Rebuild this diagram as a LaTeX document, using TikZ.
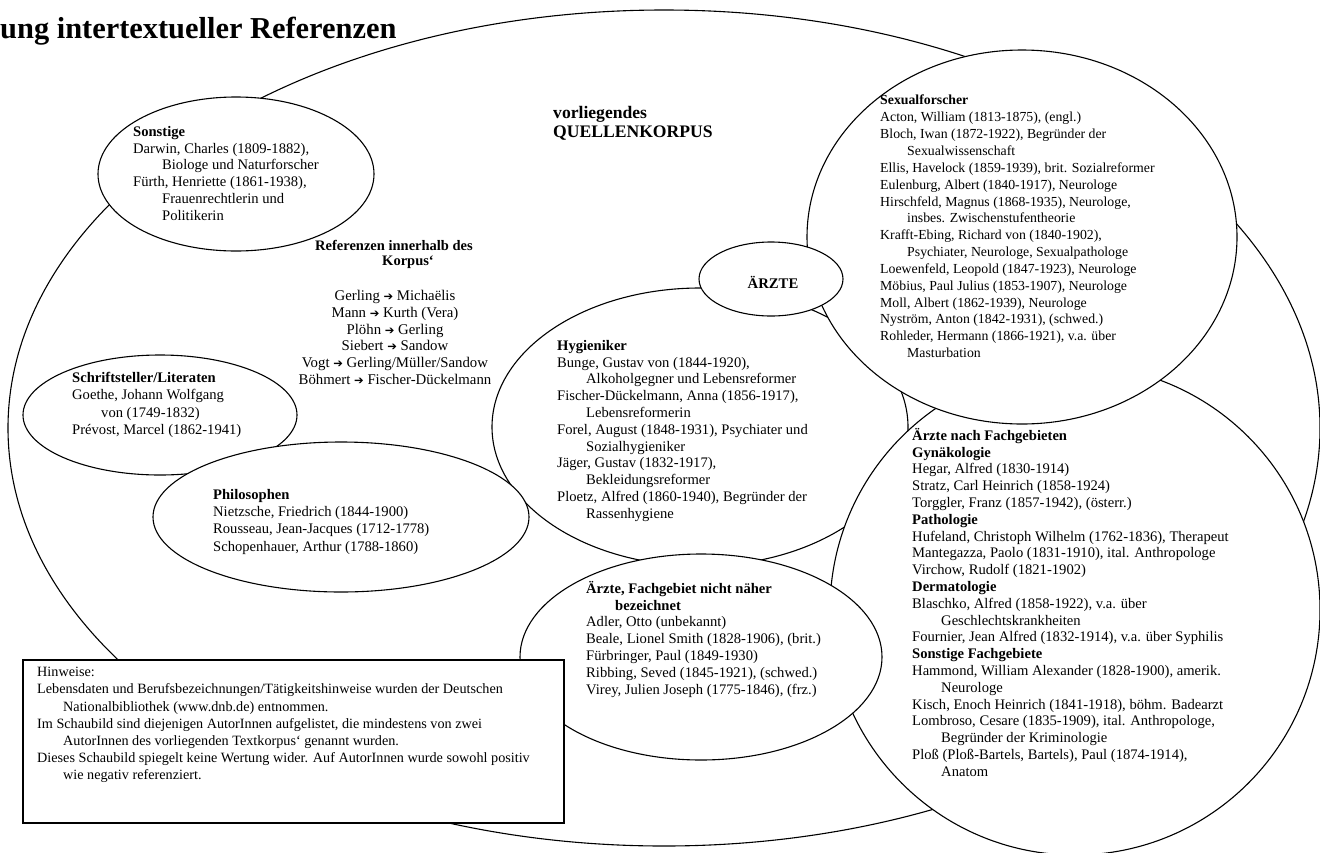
\documentclass[tikz,border=0pt]{standalone}
\usepackage{fontspec}
\setmainfont{Liberation Serif}
\newfontfamily\arrowfont{DejaVu Sans}
\newcommand{\ar}{{\arrowfont\fontsize{11.5}{16.8}\selectfont ➔}}
\newcommand{\ind}{\hspace*{29pt}}
\newcommand{\fsz}[2]{\fontsize{#1}{#2}\selectfont}
\begin{document}
\begin{tikzpicture}[x=1pt,y=-1pt,
  grp/.style={draw=black, line width=1.1pt, fill=white},
  txt/.style={anchor=north west, align=left, inner sep=0pt},
  hint/.style={draw=black, line width=1.1pt, fill=white}]
\useasboundingbox (0,0) rectangle (1320,852);
\fill[white] (0,0) rectangle (1320,852);

% title (cut off)
\node[anchor=base west, inner sep=0pt, font=\fsz{30.4}{34}\bfseries] (title) at (0,38) {ung intertextueller Referenzen};

% big corpus ellipse
\draw[grp] (664,428) ellipse [x radius=656, y radius=418];

% groups
\draw[grp] (700,427) ellipse [x radius=208, y radius=139];   % Hygieniker
\draw[grp] (1075,610) ellipse [x radius=245, y radius=245];  % Fachgebiete
\draw[grp] (701,657) ellipse [x radius=181, y radius=103];   % nicht naeher
\draw[grp] (1022,237) ellipse [x radius=215, y radius=187];  % Sexualforscher
\draw[grp] (771,279) ellipse [x radius=72, y radius=37];     % AERZTE
\draw[grp] (236,174) ellipse [x radius=138, y radius=77];    % Sonstige
\draw[grp] (160,415) ellipse [x radius=137, y radius=60];    % Schriftsteller
\draw[grp] (341,517) ellipse [x radius=188, y radius=75];    % Philosophen
\draw[hint] (23,660) rectangle (564,823);

% corpus label
\node[anchor=north west, align=left, inner sep=0pt, font=\fsz{17.6}{19}\bfseries] (korpus) at (553,106) {vorliegendes\\QUELLENKORPUS};

\node[inner sep=0pt, font=\fsz{14.7}{16.8}\bfseries] (aerzte) at (773,282) {ÄRZTE};

\node[txt, font=\fsz{14.6}{16.8}] (sonstige) at (133,126) {\textbf{Sonstige}\\
Darwin, Charles (1809-1882),\\
\ind Biologe und Naturforscher\\
Fürth, Henriette (1861-1938),\\
\ind Frauenrechtlerin und\\
\ind Politikerin};

\node[inner sep=0pt, font=\fsz{14.5}{16.8}\bfseries] (refhead1) at (394,245) {Referenzen innerhalb des};
\node[inner sep=0pt, font=\fsz{14.5}{16.8}\bfseries] (refhead2) at (408,262) {Korpus‘};
\node[anchor=north, align=center, inner sep=0pt, font=\fsz{14.8}{16.8}] (reflist) at (395,290) {Gerling \ar{} Michaëlis\\
Mann \ar{} Kurth (Vera)\\
Plöhn \ar{} Gerling\\
Siebert \ar{} Sandow\\
Vogt \ar{} Gerling/Müller/Sandow\\
Böhmert \ar{} Fischer-Dückelmann};

\node[txt, font=\fsz{14.6}{17.3}] (schrift) at (72,372) {\textbf{Schriftsteller/Literaten}\\
Goethe, Johann Wolfgang\\
\ind von (1749-1832)\\
Prévost, Marcel (1862-1941)};

\node[txt, font=\fsz{14.6}{17.3}] (philo) at (213,489) {\textbf{Philosophen}\\
Nietzsche, Friedrich (1844-1900)\\
Rousseau, Jean-Jacques (1712-1778)\\
Schopenhauer, Arthur (1788-1860)};

\node[txt, font=\fsz{14.6}{16.8}] (hyg) at (557,340) {\textbf{Hygieniker}\\
Bunge, Gustav von (1844-1920),\\
\ind Alkoholgegner und Lebensreformer\\
Fischer-Dückelmann, Anna (1856-1917),\\
\ind Lebensreformerin\\
Forel, August (1848-1931), Psychiater und\\
\ind Sozialhygieniker\\
Jäger, Gustav (1832-1917),\\
\ind Bekleidungsreformer\\
Ploetz, Alfred (1860-1940), Begründer der\\
\ind Rassenhygiene};

\node[txt, font=\fsz{14.6}{16.8}] (nn) at (586,581) {\textbf{Ärzte, Fachgebiet nicht näher}\\
\ind\textbf{bezeichnet}\\
Adler, Otto (unbekannt)\\
Beale, Lionel Smith (1828-1906), (brit.)\\
Fürbringer, Paul (1849-1930)\\
Ribbing, Seved (1845-1921), (schwed.)\\
Virey, Julien Joseph (1775-1846), (frz.)};

\node[txt, font=\fsz{13.8}{16.85}] (sexual) at (880,95) {\textbf{Sexualforscher}\\
Acton, William (1813-1875), (engl.)\\
Bloch, Iwan (1872-1922), Begründer der\\
\hspace*{27pt}Sexualwissenschaft\\
Ellis, Havelock (1859-1939), brit. Sozialreformer\\
Eulenburg, Albert (1840-1917), Neurologe\\
Hirschfeld, Magnus (1868-1935), Neurologe,\\
\hspace*{27pt}insbes. Zwischenstufentheorie\\
Krafft-Ebing, Richard von (1840-1902),\\
\hspace*{27pt}Psychiater, Neurologe, Sexualpathologe\\
Loewenfeld, Leopold (1847-1923), Neurologe\\
Möbius, Paul Julius (1853-1907), Neurologe\\
Moll, Albert (1862-1939), Neurologe\\
Nyström, Anton (1842-1931), (schwed.)\\
Rohleder, Hermann (1866-1921), v.a. über\\
\hspace*{27pt}Masturbation};

\node[txt, font=\fsz{14.6}{16.8}] (fach) at (912,428) {\textbf{Ärzte nach Fachgebieten}\\
\textbf{Gynäkologie}\\
Hegar, Alfred (1830-1914)\\
Stratz, Carl Heinrich (1858-1924)\\
Torggler, Franz (1857-1942), (österr.)\\
\textbf{Pathologie}\\
Hufeland, Christoph Wilhelm (1762-1836), Therapeut\\
Mantegazza, Paolo (1831-1910), ital. Anthropologe\\
Virchow, Rudolf (1821-1902)\\
\textbf{Dermatologie}\\
Blaschko, Alfred (1858-1922), v.a. über\\
\ind Geschlechtskrankheiten\\
Fournier, Jean Alfred (1832-1914), v.a. über Syphilis\\
\textbf{Sonstige Fachgebiete}\\
Hammond, William Alexander (1828-1900), amerik.\\
\ind Neurologe\\
Kisch, Enoch Heinrich (1841-1918), böhm. Badearzt\\
Lombroso, Cesare (1835-1909), ital. Anthropologe,\\
\ind Begründer der Kriminologie\\
Ploß (Ploß-Bartels, Bartels), Paul (1874-1914),\\
\ind Anatom};

\node[txt, font=\fsz{14.2}{17.2}] (hinweise) at (37,667) {Hinweise:\\
Lebensdaten und Berufsbezeichnungen/Tätigkeitshinweise wurden der Deutschen\\
\hspace*{26pt}Nationalbibliothek (www.dnb.de) entnommen.\\
Im Schaubild sind diejenigen AutorInnen aufgelistet, die mindestens von zwei\\
\hspace*{26pt}AutorInnen des vorliegenden Textkorpus‘ genannt wurden.\\
Dieses Schaubild spiegelt keine Wertung wider. Auf AutorInnen wurde sowohl positiv\\
\hspace*{26pt}wie negativ referenziert.};
\end{tikzpicture}
\end{document}
